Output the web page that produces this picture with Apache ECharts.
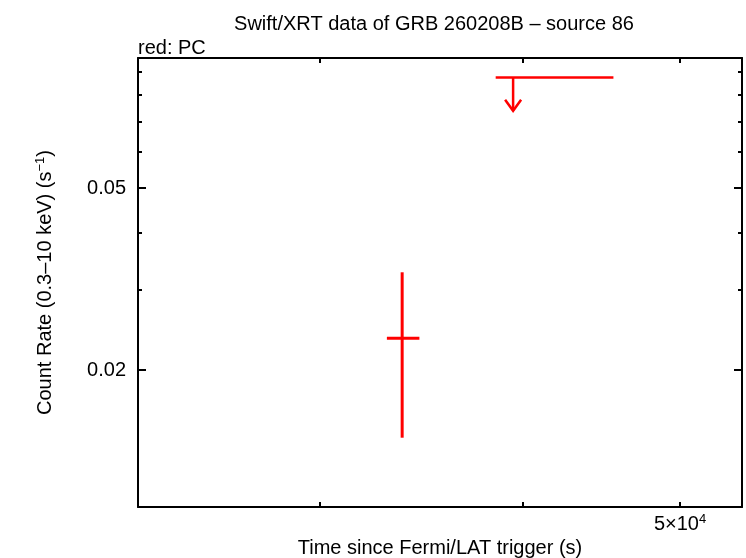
<!DOCTYPE html>
<html><head><meta charset="utf-8">
<script src="https://cdn.jsdelivr.net/npm/echarts@6/dist/echarts.min.js"></script>
<style>html,body{margin:0;padding:0;background:#fff}#c{width:746px;height:558px}</style>
</head><body><div id="c"></div>
<script>
// Detections: [time, rate, timeLo, timeHi, rateLo, rateHi]
var pcPoints = [[33700, 0.02346, 32977, 34535, 0.01422, 0.03272]];
// Upper limits: [time, rateLimit, timeLo, timeHi, arrowTip]
var pcUpperLimits = [[39450, 0.08734, 38486, 45489, 0.0738]];
var xRange = [23160, 54600];
var yRange = [0.01003, 0.0963];
var xTicks = [30000, 40000, 50000];
var xLabelTicks = [50000];
var yMajorTicks = [0.02, 0.05];
var yMinorTicks = [0.03, 0.04, 0.06, 0.07, 0.08, 0.09];

var FONT = 'Liberation Sans, Arial, sans-serif';
var FS = 20;
var chart = echarts.init(document.getElementById('c'), null, {renderer: 'canvas'});

function yAxisDef(pos, ticks, len, showLabel, showLine) {
  return {
    type: 'log', position: pos, min: yRange[0], max: yRange[1], logBase: 10,
    axisLine: {show: showLine, lineStyle: {color: '#000', width: 2}},
    axisTick: {show: true, inside: true, length: len, customValues: ticks, lineStyle: {color: '#000', width: 2}},
    axisLabel: {show: showLabel, customValues: ticks, margin: 12, color: '#000', fontFamily: FONT, fontSize: FS,
      formatter: function (v) { return (+v).toFixed(2); }},
    splitLine: {show: false}, minorTick: {show: false}
  };
}
function xAxisDef(pos, showLabel, showName) {
  return {
    type: 'log', position: pos, min: xRange[0], max: xRange[1], logBase: 10,
    axisLine: {show: true, lineStyle: {color: '#000', width: 2}},
    axisTick: {show: true, inside: true, length: 5, customValues: xTicks, lineStyle: {color: '#000', width: 2}},
    axisLabel: {show: showLabel, customValues: xLabelTicks, margin: 6, color: '#000', fontFamily: FONT, fontSize: FS,
      formatter: function (v) { var e = Math.floor(Math.log10(v) + 1e-9); var m = Math.round(v / Math.pow(10, e)); return m + '×10{sup|' + e + '}'; },
      rich: {sup: {fontSize: 13, verticalAlign: 'top', padding: [0, 0, 9, 0], color: '#000', fontFamily: FONT}}},
    name: showName ? 'Time since Fermi/LAT trigger (s)' : '',
    nameLocation: 'middle', nameGap: 30,
    nameTextStyle: {color: '#000', fontFamily: FONT, fontSize: FS},
    splitLine: {show: false}, minorTick: {show: false}
  };
}

var YFS = 20;
var yL = yAxisDef('left', yMajorTicks, 8, true, true);
yL.name = '{a|Count Rate (0.3–10 keV) (s}{s|−1}{a|)}';
yL.nameLocation = 'middle';
yL.nameGap = 82;
yL.nameTextStyle = {color: '#000', fontFamily: FONT, fontSize: YFS,
  rich: {a: {fontSize: YFS, fontFamily: FONT, color: '#000'}, s: {fontSize: 13, fontFamily: FONT, color: '#000', verticalAlign: 'top', padding: [0, 0, 9, 0]}}};

var option = {
  animation: false,
  backgroundColor: '#fff',
  title: [
    {text: 'Swift/XRT data of GRB 260208B – source 86', left: 429, top: 9, textAlign: 'center',
      textStyle: {fontFamily: FONT, fontSize: FS, fontWeight: 'normal', color: '#000'}},
    {text: 'red: PC', left: 133, top: 33,
      textStyle: {fontFamily: FONT, fontSize: FS, fontWeight: 'normal', color: '#000'}}
  ],
  grid: {left: 138, right: 4, top: 58, bottom: 51, containLabel: false, outerBoundsMode: 'none'},
  xAxis: [xAxisDef('bottom', true, true), xAxisDef('top', false, false)],
  yAxis: [yL, yAxisDef('left', yMinorTicks, 4, false, false),
          yAxisDef('right', yMajorTicks, 8, false, true), yAxisDef('right', yMinorTicks, 4, false, false)],
  series: [
    {
      type: 'custom', xAxisIndex: 0, yAxisIndex: 0, data: pcPoints,
      renderItem: function (params, api) {
        var c = api.coord([api.value(0), api.value(1)]);
        var xl = api.coord([api.value(2), api.value(1)]);
        var xh = api.coord([api.value(3), api.value(1)]);
        var yl = api.coord([api.value(0), api.value(4)]);
        var yh = api.coord([api.value(0), api.value(5)]);
        var st = {stroke: '#ff0000', lineWidth: 3};
        return {type: 'group', children: [
          {type: 'line', shape: {x1: xl[0], y1: c[1], x2: xh[0], y2: c[1]}, style: st},
          {type: 'line', shape: {x1: c[0], y1: yl[1], x2: c[0], y2: yh[1]}, style: st}
        ]};
      }
    },
    {
      type: 'custom', xAxisIndex: 0, yAxisIndex: 0, data: pcUpperLimits,
      renderItem: function (params, api) {
        var c = api.coord([api.value(0), api.value(1)]);
        var xl = api.coord([api.value(2), api.value(1)]);
        var xh = api.coord([api.value(3), api.value(1)]);
        var tip = api.coord([api.value(0), api.value(4)]);
        var st = {stroke: '#ff0000', lineWidth: 2.5, fill: null};
        return {type: 'group', children: [
          {type: 'line', shape: {x1: xl[0], y1: c[1], x2: xh[0], y2: c[1]}, style: st},
          {type: 'line', shape: {x1: c[0], y1: c[1], x2: c[0], y2: tip[1]}, style: st},
          {type: 'polyline', shape: {points: [[c[0] - 8, tip[1] - 11], [c[0], tip[1]], [c[0] + 8, tip[1] - 11]]}, style: st}
        ]};
      }
    }
  ]
};
chart.setOption(option);
</script></body></html>
